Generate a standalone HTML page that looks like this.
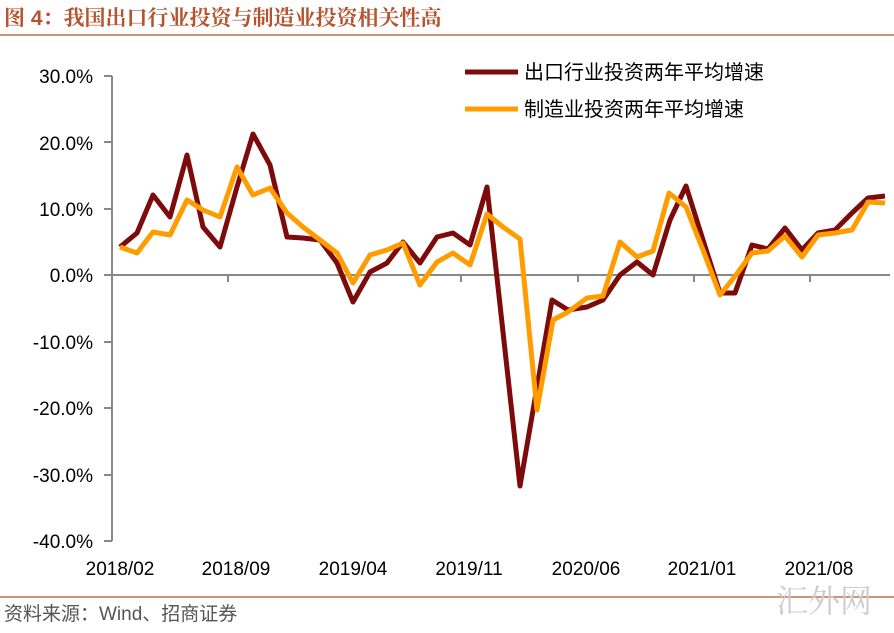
<!DOCTYPE html>
<html><head><meta charset="utf-8"><style>
body{margin:0;background:#fff;width:894px;height:628px;overflow:hidden;font-family:"Liberation Sans","Noto Sans CJK SC",sans-serif;}
</style></head><body>
<svg width="894" height="628" xmlns="http://www.w3.org/2000/svg" font-family="Liberation Sans, Noto Sans CJK SC, sans-serif">
<text x="4" y="25" font-size="21" font-weight="bold" fill="#b4532e" font-family="Liberation Sans, Noto Serif CJK SC, serif">图 4：我国出口行业投资与制造业投资相关性高</text>
<line x1="0" y1="35" x2="894" y2="35" stroke="#c0714f" stroke-width="1.5"/>
<g font-size="19" fill="#000" text-anchor="end">
<text x="93" y="83">30.0%</text><text x="93" y="150">20.0%</text><text x="93" y="216">10.0%</text><text x="93" y="282">0.0%</text><text x="93" y="349">-10.0%</text><text x="93" y="415">-20.0%</text><text x="93" y="482">-30.0%</text><text x="93" y="548">-40.0%</text>
</g>
<g stroke="#888" stroke-width="2">
<line x1="112" y1="76" x2="112" y2="541"/>
<line x1="104" y1="76" x2="112" y2="76"/><line x1="104" y1="142" x2="112" y2="142"/><line x1="104" y1="209" x2="112" y2="209"/><line x1="104" y1="275" x2="112" y2="275"/><line x1="104" y1="342" x2="112" y2="342"/><line x1="104" y1="408" x2="112" y2="408"/><line x1="104" y1="475" x2="112" y2="475"/><line x1="104" y1="541" x2="112" y2="541"/>
<line x1="112" y1="275" x2="890" y2="275"/>
<line x1="228" y1="275" x2="228" y2="282"/><line x1="345" y1="275" x2="345" y2="282"/><line x1="461" y1="275" x2="461" y2="282"/><line x1="578" y1="275" x2="578" y2="282"/><line x1="694" y1="275" x2="694" y2="282"/><line x1="810" y1="275" x2="810" y2="282"/>
</g>
<g font-size="19" fill="#000" text-anchor="middle">
<text x="120" y="575">2018/02</text><text x="236" y="575">2018/09</text><text x="353" y="575">2019/04</text><text x="469" y="575">2019/11</text><text x="586" y="575">2020/06</text><text x="702" y="575">2021/01</text><text x="819" y="575">2021/08</text>
</g>
<polyline fill="none" stroke="#7d0b0b" stroke-width="5" stroke-linejoin="round" points="120,247 137,233 153,195 170,217 187,155 203,227 220,247 237,187 253,134 270,165 287,237 303,238 320,240 337,263 353,302 370,272 387,263 403,242 420,263 437,237 453,233 470,245 487,187 520,486 552,300 568,310 587,307 603,300 620,275 637,262 653,275 670,220 686,186 703,240 720,293 735,293 752,245 768,249 785,228 802,250 818,233 835,230 852,213 868,198 885,196"/>
<polyline fill="none" stroke="#ff9c00" stroke-width="5" stroke-linejoin="round" points="120,247 137,253 153,232 170,235 187,200 203,210 220,217 237,167 253,195 270,188 287,213 303,227 320,240 337,253 353,283 370,255 387,250 403,243 420,285 437,262 453,253 470,265 487,214 503,227 520,239 537,410 553,320 568,312 587,298 603,296 620,242 637,257 653,251 669,193 686,207 703,250 720,295 736,275 752,253 768,251 785,236 802,257 818,235 835,233 852,230 868,202 885,203"/>
<line x1="465" y1="72" x2="518" y2="72" stroke="#7d0b0b" stroke-width="5"/>
<line x1="465" y1="109" x2="518" y2="109" stroke="#ff9c00" stroke-width="5"/>
<g font-size="20" fill="#000">
<text x="524" y="79">出口行业投资两年平均增速</text>
<text x="524" y="116">制造业投资两年平均增速</text>
</g>
<line x1="0" y1="597" x2="894" y2="597" stroke="#c0714f" stroke-width="1.5"/>
<text x="4" y="620" font-size="19" fill="#555">资料来源：Wind、招商证券</text>
<text x="776" y="612" font-size="32" fill="#ccc" font-family="Noto Serif CJK SC, serif">汇外网</text>
</svg>
</body></html>
